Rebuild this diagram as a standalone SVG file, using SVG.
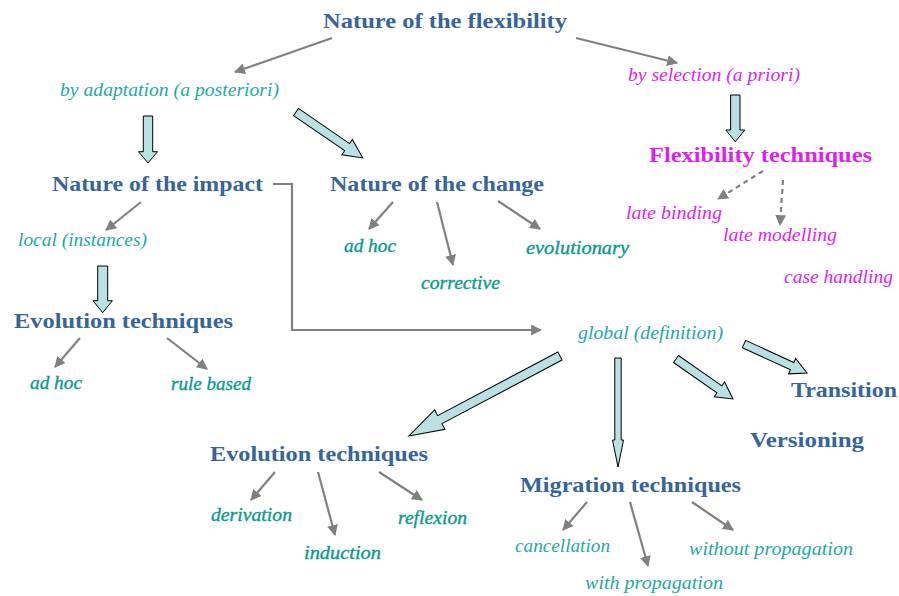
<svg xmlns="http://www.w3.org/2000/svg" width="899" height="596" viewBox="0 0 899 596">
<style>
text{font-family:"Liberation Serif",serif}
.t{font-weight:bold;font-size:22px;fill:#35659a}
.m{font-weight:bold;font-size:22px;fill:#dd1ff0}
.i{font-style:italic;font-size:19px;fill:#22aaa0}
.d{font-style:italic;font-size:18px;fill:#0a9a8c;stroke:#0a9a8c;stroke-width:0.35}
.p{font-style:italic;font-size:19px;fill:#dd1ff0}
.c{stroke:#808080;stroke-width:2.2;fill:none;marker-end:url(#ah)}
.dash{stroke-dasharray:5,4}
.b{fill:#b9e0e2;stroke:#000;stroke-width:1}
</style>
<defs>
<marker id="ah" viewBox="0 0 10 10" refX="9" refY="5" markerWidth="5" markerHeight="5" orient="auto" markerUnits="strokeWidth">
<path d="M0,0 L10,5 L0,10 z" fill="#808080"/>
</marker>
</defs>
<rect width="899" height="596" fill="#fff"/>
<g id="connectors">
<line class="c" x1="332" y1="38" x2="235" y2="72"/>
<line class="c" x1="576" y1="38" x2="677" y2="63"/>
<line class="c" x1="141" y1="202" x2="106" y2="230"/>
<line class="c" x1="393" y1="202" x2="369" y2="229"/>
<line class="c" x1="437" y1="202" x2="453" y2="265"/>
<line class="c" x1="498" y1="201" x2="540" y2="229"/>
<line class="c dash" x1="763" y1="171" x2="718" y2="199"/>
<line class="c dash" x1="783" y1="180" x2="780" y2="225"/>
<line class="c" x1="80" y1="338" x2="55" y2="367"/>
<line class="c" x1="167" y1="338" x2="207" y2="369"/>
<polyline class="c" points="273,184 292,184 292,330 541,330"/>
<line class="c" x1="275" y1="472" x2="251" y2="500"/>
<line class="c" x1="318" y1="472" x2="335" y2="535"/>
<line class="c" x1="379" y1="472" x2="422" y2="500"/>
<line class="c" x1="587" y1="502" x2="563" y2="530"/>
<line class="c" x1="630" y1="502" x2="648" y2="566"/>
<line class="c" x1="692" y1="502" x2="733" y2="530"/>
<polygon class="b" transform="translate(148,116) rotate(90)" points="0,-4.7 35.7,-4.7 35.7,-9.5 47,0 35.7,9.5 35.7,4.7 0,4.7"/>
<polygon class="b" transform="translate(296,112) rotate(34.5)" points="0,-4.3 62,-4.3 62,-9.3 81,0 62,9.3 62,4.3 0,4.3"/>
<polygon class="b" transform="translate(735.3,95) rotate(90)" points="0,-4.7 35,-4.7 35,-9.5 46.7,0 35,9.5 35,4.7 0,4.7"/>
<polygon class="b" transform="translate(102.7,266) rotate(90)" points="0,-5 34.7,-5 34.7,-9.7 46.7,0 34.7,9.7 34.7,5 0,5"/>
<polygon class="b" transform="translate(560,356) rotate(152.1)" points="0,-4.5 136,-4.5 136,-11 171,0 136,11 136,4.5 0,4.5"/>
<polygon class="b" transform="translate(618,358) rotate(90)" points="0,-3.2 82,-3.2 82,-5.5 109,0 82,5.5 82,3.2 0,3.2"/>
<polygon class="b" transform="translate(676,359) rotate(35)" points="0,-4.3 53,-4.3 53,-9 69.6,0 53,9 53,4.3 0,4.3"/>
<polygon class="b" transform="translate(744,344) rotate(24.7)" points="0,-4 53,-4 53,-8.5 69.4,0 53,8.5 53,4 0,4"/>
</g>
<g id="n-flex"><text class="t" x="323" y="28" textLength="244" lengthAdjust="spacingAndGlyphs">Nature of the flexibility</text></g>
<g id="n-adapt"><text class="i" x="60" y="96" textLength="219" lengthAdjust="spacingAndGlyphs">by adaptation (a posteriori)</text></g>
<g id="n-select"><text class="p" x="628" y="81" textLength="172" lengthAdjust="spacingAndGlyphs">by selection (a priori)</text></g>
<g id="n-impact"><text class="t" x="52" y="191" textLength="211" lengthAdjust="spacingAndGlyphs">Nature of the impact</text></g>
<g id="n-change"><text class="t" x="330" y="191" textLength="214" lengthAdjust="spacingAndGlyphs">Nature of the change</text></g>
<g id="n-flextech"><text class="m" x="649" y="162" textLength="223" lengthAdjust="spacingAndGlyphs">Flexibility techniques</text></g>
<g id="n-latebind"><text class="p" x="626" y="219" textLength="96" lengthAdjust="spacingAndGlyphs">late binding</text></g>
<g id="n-latemod"><text class="p" x="723" y="241" textLength="114" lengthAdjust="spacingAndGlyphs">late modelling</text></g>
<g id="n-case"><text class="p" x="784" y="283" textLength="109" lengthAdjust="spacingAndGlyphs">case handling</text></g>
<g id="n-local"><text class="i" x="18" y="246" textLength="129" lengthAdjust="spacingAndGlyphs">local (instances)</text></g>
<g id="n-adhoc1"><text class="d" x="344" y="252" textLength="52" lengthAdjust="spacingAndGlyphs">ad hoc</text></g>
<g id="n-corrective"><text class="d" x="421" y="289" textLength="79" lengthAdjust="spacingAndGlyphs">corrective</text></g>
<g id="n-evolutionary"><text class="d" x="526" y="254" textLength="103" lengthAdjust="spacingAndGlyphs">evolutionary</text></g>
<g id="n-evol1"><text class="t" x="14" y="328" textLength="219" lengthAdjust="spacingAndGlyphs">Evolution techniques</text></g>
<g id="n-adhoc2"><text class="d" x="30" y="389" textLength="52" lengthAdjust="spacingAndGlyphs">ad hoc</text></g>
<g id="n-rule"><text class="d" x="171" y="390" textLength="80" lengthAdjust="spacingAndGlyphs">rule based</text></g>
<g id="n-global"><text class="i" x="578" y="339" textLength="145" lengthAdjust="spacingAndGlyphs">global (definition)</text></g>
<g id="n-transition"><text class="t" x="791" y="397" textLength="106" lengthAdjust="spacingAndGlyphs">Transition</text></g>
<g id="n-versioning"><text class="t" x="750" y="447" textLength="114" lengthAdjust="spacingAndGlyphs">Versioning</text></g>
<g id="n-evol2"><text class="t" x="210" y="461" textLength="218" lengthAdjust="spacingAndGlyphs">Evolution techniques</text></g>
<g id="n-derivation"><text class="d" x="211" y="521" textLength="81" lengthAdjust="spacingAndGlyphs">derivation</text></g>
<g id="n-induction"><text class="d" x="304" y="559" textLength="77" lengthAdjust="spacingAndGlyphs">induction</text></g>
<g id="n-reflexion"><text class="d" x="398" y="524" textLength="69" lengthAdjust="spacingAndGlyphs">reflexion</text></g>
<g id="n-migration"><text class="t" x="520" y="492" textLength="221" lengthAdjust="spacingAndGlyphs">Migration techniques</text></g>
<g id="n-cancel"><text class="i" x="515" y="552" textLength="95" lengthAdjust="spacingAndGlyphs">cancellation</text></g>
<g id="n-withprop"><text class="i" x="585" y="589" textLength="138" lengthAdjust="spacingAndGlyphs">with propagation</text></g>
<g id="n-withoutprop"><text class="i" x="689" y="555" textLength="164" lengthAdjust="spacingAndGlyphs">without propagation</text></g>
</svg>
